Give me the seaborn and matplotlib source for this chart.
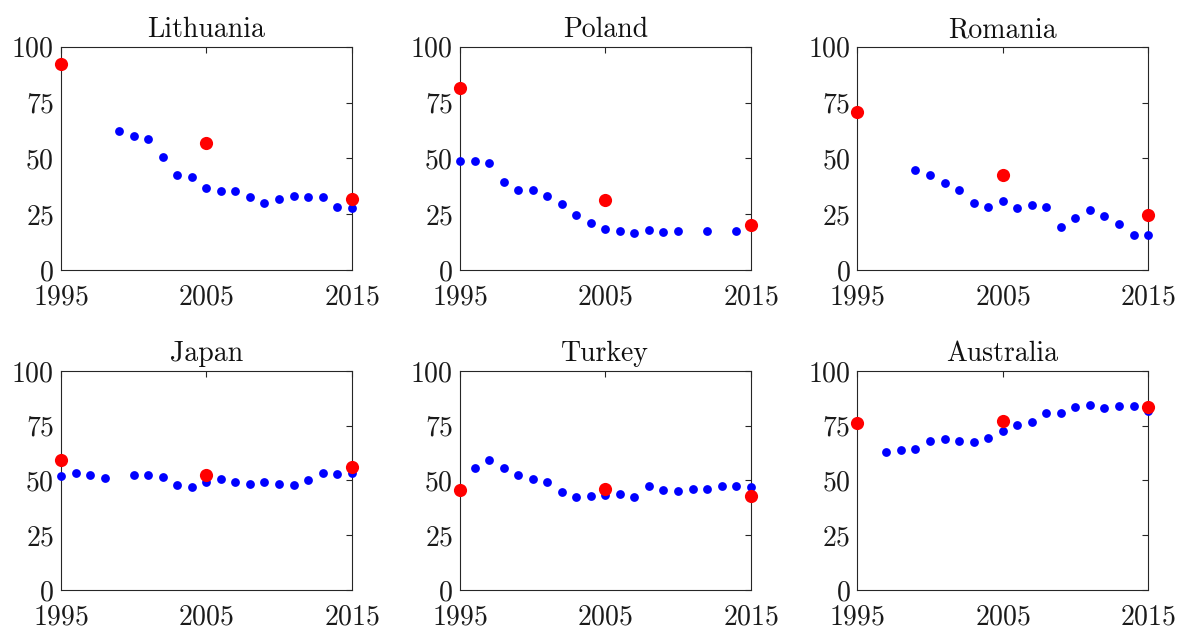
import numpy as np
import pandas as pd
import matplotlib
matplotlib.use("Agg")
import matplotlib.pyplot as plt
import seaborn as sns

years = list(range(1995, 2016))
nan = np.nan

countries = ["Lithuania", "Poland", "Romania", "Japan", "Turkey", "Australia"]

lithuania = [nan, nan, nan, nan, 62.2, 60.0, 58.5, 50.4, 42.4, 41.6, 36.6,
             35.4, 35.5, 32.7, 29.9, 31.6, 33.0, 32.7, 32.5, 28.4, 27.9]
poland = [48.7, 49.0, 48.1, 39.6, 35.8, 35.8, 33.3, 29.4, 24.6, 20.9, 18.5,
          17.5, 16.7, 17.8, 16.9, 17.5, nan, 17.6, nan, 17.5, nan]
romania = [nan, nan, nan, nan, 44.8, 42.4, 39.1, 35.8, 30.1, 28.1, 31.0,
           27.9, 29.0, 28.4, 19.3, 23.1, 26.9, 24.0, 20.7, 15.7, 15.7]
japan = [52.0, 53.2, 52.6, 51.2, nan, 52.4, 52.7, 51.7, 47.9, 47.1, 49.1,
         50.5, 49.5, 48.6, 49.4, 48.6, 48.0, 50.3, 53.6, 52.9, 53.3]
turkey = [nan, 55.9, 59.3, 55.6, 52.4, 50.8, 49.2, 44.7, 42.3, 42.8, 43.4,
          44.0, 42.3, 47.6, 45.8, 45.2, 45.9, 45.9, 47.3, 47.3, 47.0]
australia = [nan, nan, 63.0, 63.7, 64.3, 68.1, 68.8, 67.9, 67.6, 69.4, 72.6,
             75.5, 76.7, 80.6, 80.6, 83.7, 84.3, 82.9, 84.2, 84.2, 81.9]

bench_years = [1995, 2005, 2015]
bench_lithuania = [92.1, 56.7, 31.9]
bench_poland = [81.6, 31.3, 20.0]
bench_romania = [70.6, 42.7, 24.6]
bench_japan = [59.5, 52.4, 56.3]
bench_turkey = [45.8, 46.2, 42.8]
bench_australia = [76.4, 77.1, 83.4]

series = [lithuania, poland, romania, japan, turkey, australia]
benches = [bench_lithuania, bench_poland, bench_romania, bench_japan,
           bench_turkey, bench_australia]

xticks = [1995, 2005, 2015]
yticks = [0, 25, 50, 75, 100]

sns.set_style("white")
plt.rcParams.update({
    "font.family": "serif",
    "font.serif": ["cmr10"],
    "mathtext.fontset": "cm",
    "axes.formatter.use_mathtext": True,
    "font.size": 20,
    "axes.edgecolor": "#262626",
    "axes.linewidth": 0.8,
    "xtick.color": "#262626",
    "ytick.color": "#262626",
    "xtick.labelcolor": "#1a1a1a",
    "ytick.labelcolor": "#1a1a1a",
})

fig = plt.figure(figsize=(11.77, 6.28), dpi=100)
lefts = [0.0518, 0.3908, 0.7284]
bottoms = [0.570, 0.0605]
w, hts = 0.247, [0.3556, 0.3488]

for i, (name, vals, bvals) in enumerate(zip(countries, series, benches)):
    r, c = divmod(i, 3)
    ax = fig.add_axes([lefts[c], bottoms[r], w, hts[r]])
    df = pd.DataFrame({"year": years, "value": vals}).dropna()
    bdf = pd.DataFrame({"year": bench_years, "value": bvals})
    sns.scatterplot(data=df, x="year", y="value", ax=ax, color="#0000ff",
                    s=40, linewidth=0, clip_on=False, zorder=3)
    sns.scatterplot(data=bdf, x="year", y="value", ax=ax, color="#ff0000",
                    s=90, linewidth=0, clip_on=False, zorder=4)
    ax.set_xlim(1995, 2015)
    ax.set_ylim(0, 100)
    ax.set_xticks(xticks)
    ax.set_yticks(yticks)
    ax.set_xlabel("")
    ax.set_ylabel("")
    ax.set_title(name, fontsize=20, pad=7, color="#111111")
    ax.tick_params(direction="in", length=4, width=0.8, top=True, right=True,
                   labelsize=20)
    ax.tick_params(axis="x", pad=10)
    ax.tick_params(axis="y", pad=5)
    for sp in ax.spines.values():
        sp.set_visible(True)

fig.savefig("out.png", dpi=100)
